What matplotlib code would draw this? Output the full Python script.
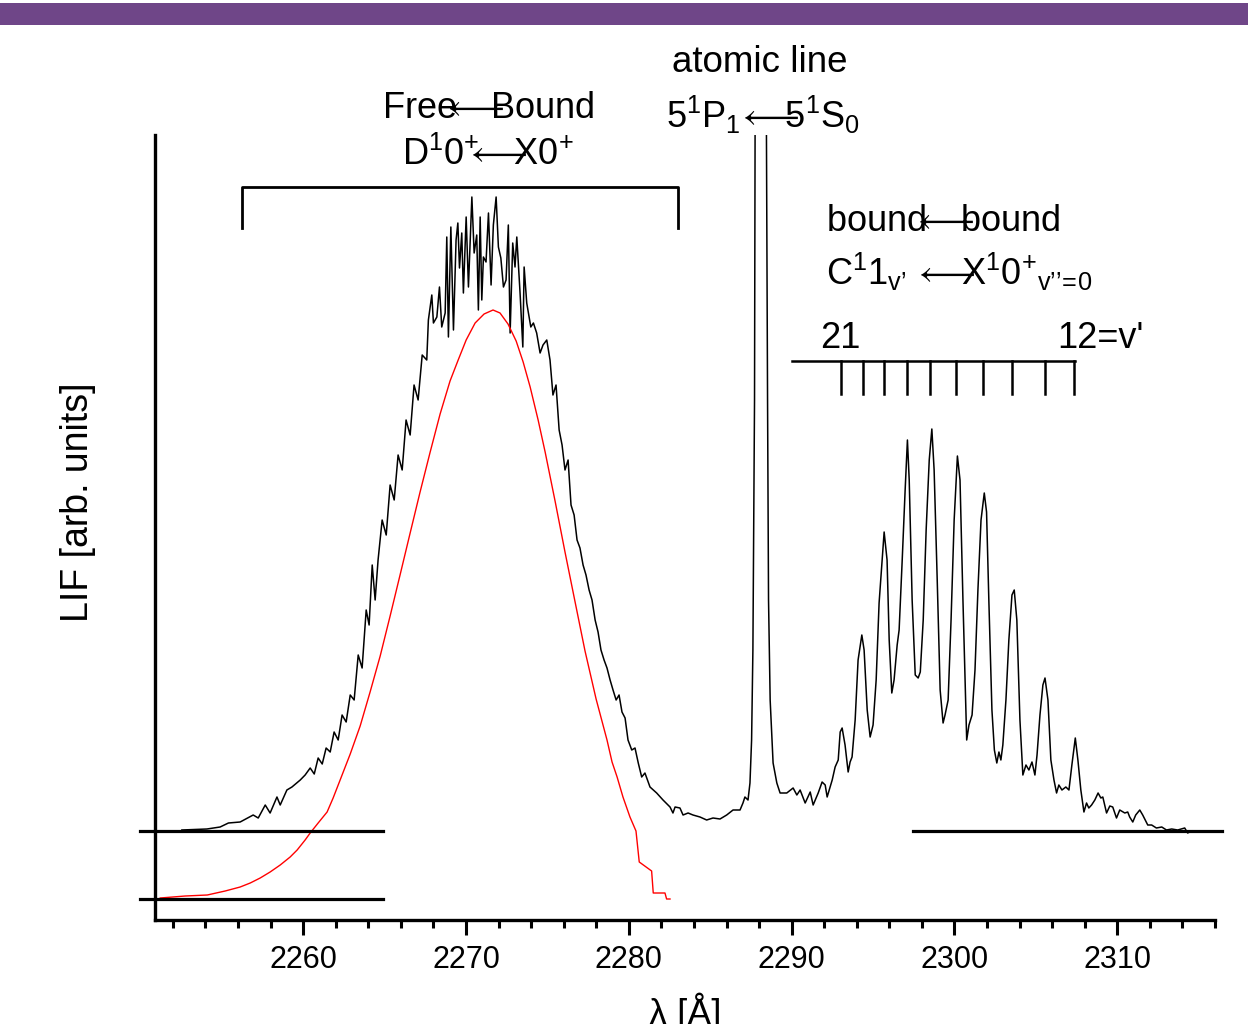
import numpy as np
import matplotlib
matplotlib.use("Agg")
import matplotlib.pyplot as plt
from matplotlib.patches import Rectangle

plt.rcParams['font.family'] = ['Liberation Sans', 'DejaVu Sans']
plt.rcParams['mathtext.fontset'] = 'custom'
plt.rcParams['mathtext.rm'] = 'Liberation Sans'
plt.rcParams['mathtext.it'] = 'Liberation Sans:italic'

# measured LIF spectrum (wavelength in Angstrom, intensity in arb. units)
lif_wl = [2252.55, 2254.09, 2254.90, 2255.41, 2256.13, 2256.93, 2257.24, 2257.67, 2257.97, 2258.39,
          2258.59, 2259.00, 2259.31, 2259.82, 2260.12, 2260.43, 2260.68, 2260.92, 2261.17, 2261.41,
          2261.66, 2261.90, 2262.15, 2262.39, 2262.64, 2262.89, 2263.13, 2263.38, 2263.62, 2263.87,
          2264.05, 2264.24, 2264.42, 2264.60, 2264.85, 2265.10, 2265.34, 2265.59, 2265.83, 2266.08,
          2266.32, 2266.57, 2266.81, 2267.06, 2267.31, 2267.59, 2267.69, 2267.90, 2268.00, 2268.21,
          2268.37, 2268.51, 2268.72, 2268.82, 2268.92, 2269.07, 2269.23, 2269.39, 2269.50, 2269.60,
          2269.74, 2269.84, 2270.01, 2270.15, 2270.36, 2270.50, 2270.66, 2270.76, 2270.87, 2270.97,
          2271.07, 2271.23, 2271.38, 2271.54, 2271.68, 2271.85, 2271.99, 2272.14, 2272.30, 2272.46,
          2272.60, 2272.71, 2272.87, 2273.01, 2273.12, 2273.32, 2273.49, 2273.57, 2273.73, 2273.98,
          2274.14, 2274.34, 2274.55, 2274.73, 2274.96, 2275.16, 2275.34, 2275.53, 2275.72, 2275.90,
          2276.08, 2276.27, 2276.45, 2276.64, 2276.82, 2277.00, 2277.19, 2277.37, 2277.56, 2277.74,
          2277.93, 2278.11, 2278.29, 2278.48, 2278.66, 2278.85, 2279.03, 2279.22, 2279.40, 2279.58,
          2279.77, 2279.95, 2280.18, 2280.38, 2280.58, 2280.79, 2280.99, 2281.30, 2281.71, 2282.10,
          2282.53, 2282.71, 2282.84, 2283.14, 2283.33, 2283.64, 2283.94, 2284.37, 2284.78, 2285.17,
          2285.60, 2286.01, 2286.40, 2286.83, 2287.01, 2287.13, 2287.32, 2287.44, 2287.54, 2287.62,
          2287.72, 2287.78, 2288.40, 2288.52, 2288.58, 2288.68, 2288.86, 2289.09, 2289.29, 2289.70,
          2290.09, 2290.32, 2290.52, 2290.83, 2291.14, 2291.32, 2291.63, 2291.87, 2292.06, 2292.18,
          2292.49, 2292.67, 2292.86, 2292.98, 2293.10, 2293.28, 2293.47, 2293.59, 2293.71, 2293.90,
          2294.08, 2294.31, 2294.45, 2294.64, 2294.82, 2295.00, 2295.19, 2295.37, 2295.56, 2295.68,
          2295.86, 2295.99, 2296.15, 2296.29, 2296.48, 2296.60, 2296.79, 2296.97, 2297.11, 2297.22,
          2297.40, 2297.59, 2297.77, 2297.90, 2298.08, 2298.26, 2298.45, 2298.61, 2298.75, 2298.94,
          2299.12, 2299.30, 2299.42, 2299.61, 2299.79, 2299.98, 2300.18, 2300.34, 2300.52, 2300.75,
          2300.89, 2301.08, 2301.26, 2301.44, 2301.63, 2301.83, 2301.97, 2302.11, 2302.30, 2302.45,
          2302.60, 2302.73, 2302.85, 2302.97, 2303.16, 2303.34, 2303.53, 2303.67, 2303.83, 2304.02,
          2304.20, 2304.39, 2304.57, 2304.76, 2304.94, 2305.07, 2305.25, 2305.43, 2305.56, 2305.74,
          2305.92, 2306.11, 2306.27, 2306.41, 2306.60, 2306.84, 2307.03, 2307.21, 2307.42, 2307.58,
          2307.76, 2307.95, 2308.11, 2308.25, 2308.42, 2308.62, 2308.82, 2308.99, 2309.11, 2309.34,
          2309.54, 2309.72, 2309.95, 2310.15, 2310.46, 2310.64, 2310.76, 2310.95, 2311.13, 2311.38,
          2311.56, 2311.87, 2312.11, 2312.40, 2312.73, 2313.02, 2313.34, 2313.71, 2314.14, 2314.32,
          2314.57]
lif_int = [1, 2, 4, 8, 9, 16, 13, 26, 18, 34,
           26, 41, 44, 51, 56, 63, 57, 73, 67, 83,
           79, 99, 91, 116, 109, 136, 131, 176, 163, 221,
           206, 266, 231, 271, 311, 296, 346, 331, 376, 361,
           411, 396, 446, 431, 476, 471, 511, 536, 508, 514,
           544, 504, 518, 594, 494, 604, 501, 591, 608, 563,
           598, 538, 614, 544, 634, 578, 596, 521, 614, 531,
           574, 569, 618, 546, 606, 634, 584, 573, 544, 551,
           606, 498, 588, 564, 594, 538, 484, 564, 528, 504,
           508, 498, 478, 486, 491, 471, 436, 446, 401, 386,
           361, 371, 326, 316, 291, 283, 266, 256, 241, 231,
           211, 199, 181, 171, 163, 151, 141, 131, 136, 119,
           113, 91, 81, 83, 68, 54, 58, 44, 38, 31,
           24, 18, 24, 23, 16, 18, 16, 14, 11, 13,
           12, 16, 21, 21, 28, 34, 31, 48, 91, 181,
           431, 900, 900, 431, 231, 131, 68, 48, 38, 38,
           43, 36, 41, 28, 39, 26, 38, 49, 46, 34,
           51, 64, 71, 99, 103, 86, 59, 69, 74, 111,
           171, 196, 181, 121, 94, 106, 151, 228, 271, 299,
           271, 191, 138, 151, 186, 201, 271, 341, 391, 351,
           231, 156, 153, 159, 211, 301, 371, 402, 361, 251,
           141, 108, 116, 131, 211, 311, 375, 351, 231, 91,
           106, 116, 161, 241, 311, 338, 319, 231, 121, 81,
           68, 79, 71, 86, 131, 191, 236, 241, 211, 111,
           56, 66, 61, 69, 56, 76, 116, 146, 153, 131,
           71, 51, 38, 46, 41, 44, 41, 66, 93, 71,
           41, 19, 28, 23, 26, 31, 38, 33, 34, 18,
           25, 24, 13, 21, 18, 19, 14, 9, 16, 21,
           16, 6, 6, 3, 4, 1, 2, 1, 3, -2,
           0]

# fitted free<-bound profile (red), same arb. units
fit_wl = [2251.22, 2252.76, 2254.11, 2255.21, 2256.13, 2256.75, 2257.36, 2257.97, 2258.59, 2259.20,
          2259.63, 2260.12, 2260.43, 2260.92, 2261.47, 2261.84, 2262.27, 2262.89, 2263.50, 2264.11,
          2264.73, 2265.34, 2265.95, 2266.57, 2267.18, 2267.80, 2268.41, 2269.02, 2269.52, 2270.01,
          2270.56, 2271.11, 2271.66, 2272.09, 2272.58, 2273.08, 2273.51, 2273.94, 2274.43, 2274.86,
          2275.47, 2276.08, 2276.70, 2277.31, 2277.99, 2278.66, 2278.97, 2279.28, 2279.64, 2280.07,
          2280.44, 2280.64, 2281.40, 2281.50, 2282.22, 2282.32, 2282.53]
fit_int = [-67, -65, -64, -60, -56, -52, -47, -41, -34, -26,
           -19, -9, -2, 8, 19, 33, 51, 77, 105, 139,
           175, 215, 256, 298, 339, 379, 417, 450, 471, 491,
           508, 517, 521, 518, 507, 490, 469, 444, 411, 379,
           330, 279, 229, 180, 132, 91, 69, 54, 34, 14,
           0, -31, -40, -62, -62, -68, -68]

# baselines of the two traces
lif_zero = 0
fit_zero = -68

# vibrational assignment C1 v'=21 ... 12
v_levels = [21, 20, 19, 18, 17, 16, 15, 14, 13, 12]
v_wl = [2293.05, 2294.38, 2295.67, 2297.08, 2298.52, 2300.07, 2301.75, 2303.55, 2305.53, 2307.32]

# free<-bound band range
fb_range = [2256.26, 2283.02]

W, H = 1248, 1024
fig = plt.figure(figsize=(W / 100, H / 100), dpi=100)
ax = fig.add_axes([155 / W, 1 - 920 / H, 1060 / W, 785 / H])

fig.patches.append(Rectangle((0, 1 - 25 / H), 1, 22 / H, transform=fig.transFigure,
                             facecolor='#6f4688', edgecolor='none'))

ax.plot(lif_wl, lif_int, color='black', lw=1.1)
ax.plot(fit_wl, fit_int, color='red', lw=1.0)

# zero lines
ax.plot([2250.0, 2264.91], [lif_zero, lif_zero], color='black', lw=2.3, clip_on=False)
ax.plot([2297.45, 2316.42], [lif_zero, lif_zero], color='black', lw=2.3, clip_on=False)
ax.plot([2250.0, 2264.91], [fit_zero, fit_zero], color='black', lw=2.3, clip_on=False)

# bracket for free<-bound band
ax.plot([fb_range[0], fb_range[0], fb_range[1], fb_range[1]], [603, 644, 644, 603],
        color='black', lw=2.0, clip_on=False)

# comb for the bound<-bound progression
ax.plot([2290.0, v_wl[-1] + 0.06], [470, 470], color='black', lw=1.8)
for w in v_wl:
    ax.plot([w, w], [470, 437], color='black', lw=1.8)

ax.set_xlim(2250.9, 2316)
ax.set_ylim(-89, 696)
ax.set_xticks([2260, 2270, 2280, 2290, 2300, 2310])
ax.set_xticks(np.arange(2252, 2317, 2), minor=True)
ax.set_yticks([])
for s in ['top', 'right']:
    ax.spines[s].set_visible(False)
for s in ['left', 'bottom']:
    ax.spines[s].set_linewidth(2.4)
ax.tick_params(axis='x', which='major', length=10.8, width=2.2, labelsize=22, pad=7)
ax.tick_params(axis='x', which='minor', length=5.8, width=2.2)

arrow = r'\!\!\!\longleftarrow\!\!\!\!'
def ftext(x, y, s, fs=26, **kw):
    fig.text(x / W, 1 - y / H, s, fontsize=fs, **kw)

ftext(488, 118, r'$\mathregular{Free' + arrow + r'Bound}$', ha='center', va='baseline')
ftext(488, 165, r'$\mathregular{D^{1}0^{+}' + arrow + r'X0^{+}}$', ha='center', va='baseline')
ftext(672, 72, 'atomic line', fs=26.5, ha='left', va='baseline')
ftext(763, 128, r'$\mathregular{5^{1}P_{1}\!\longleftarrow\!\!\!\!5^{1}S_{0}}$', ha='center', va='baseline')
ftext(826, 231, r'$\mathregular{bound' + arrow + r'bound}$', ha='left', va='baseline')
ftext(826, 285, '$\\mathregular{C^{1}1_{v\u2019}\\,\\longleftarrow\\!\\!\\!\\!X^{1}{0^{+}}_{v\u2019\u2019\\!=\\!0}}$',
      ha='left', va='baseline')
ftext(820, 348, '21', ha='left', va='baseline')
ftext(1057, 348, "12=v'", ha='left', va='baseline')

ftext(78, 502, 'LIF [arb. units]', fs=27, rotation=90, ha='center', va='center')
ftext(685, 1013, '\u03bb [\u00c5]', ha='center', va='center')

fig.savefig('out.png', dpi=100)
